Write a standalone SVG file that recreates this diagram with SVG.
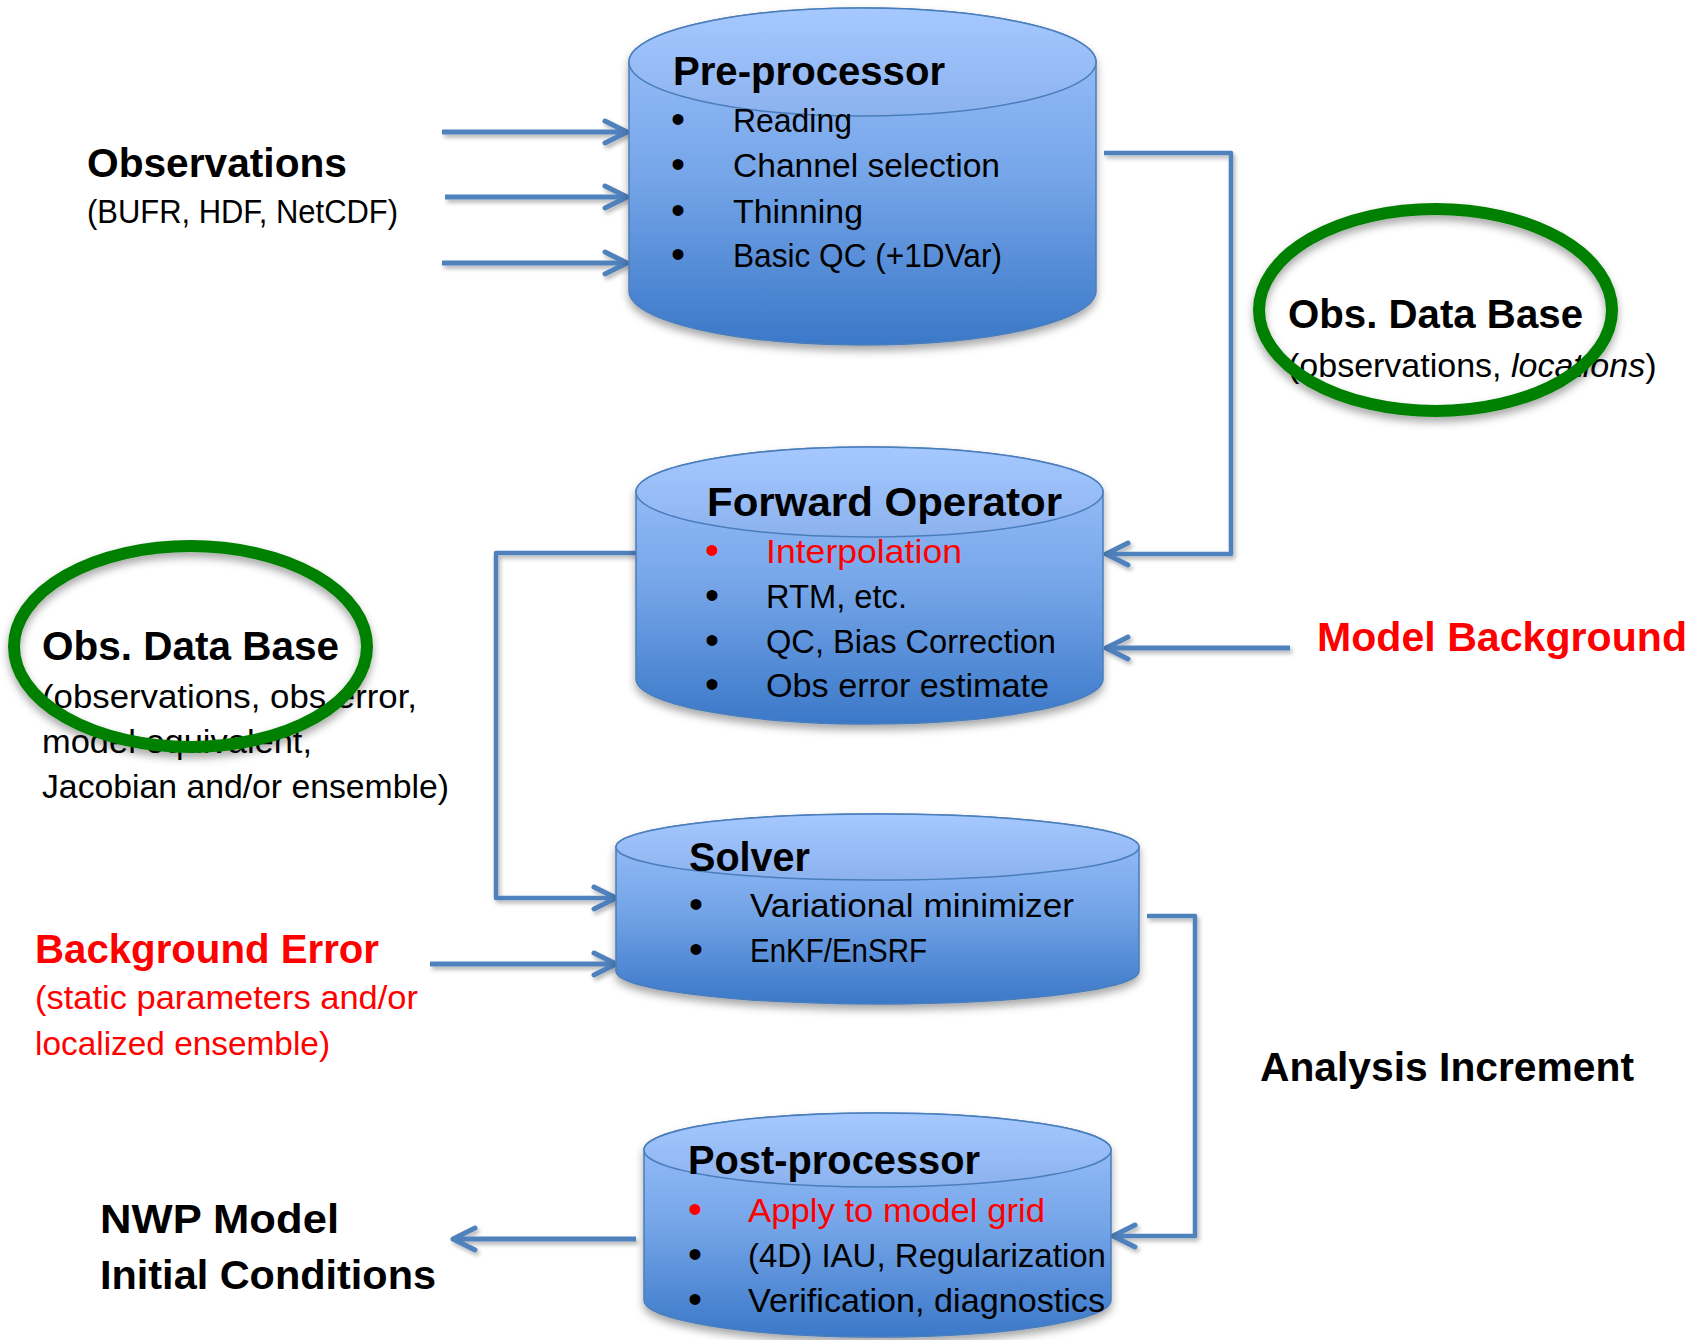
<svg xmlns="http://www.w3.org/2000/svg" width="1700" height="1340" viewBox="0 0 1700 1340">
  <defs>
    <style>
      .t { font-family: "Liberation Sans", Arial, sans-serif; }
      .title { font-size: 40px; font-weight: bold; fill: #000; }
      .body { font-size: 33px; fill: #000; }
      .dot { font-size: 40px; }
      .red { fill: #ff0000; }
      .cyl-body { fill: url(#bodyFill); stroke: #4a7ebb; stroke-width: 1.5; }
      .cyl-cap { fill: url(#capFill); stroke: #4a7ebb; stroke-width: 1.5; }
      .ring { fill: none; stroke: #008000; stroke-width: 12; }
      .conn { fill: none; stroke: #4f81bd; stroke-width: 4.5; stroke-linejoin: round; marker-end: url(#arrowOpen); }
      .conn-thick { stroke-width: 5; }
    </style>
    <linearGradient id="bodyFill" x1="0" y1="0" x2="0" y2="1">
      <stop offset="0" stop-color="#9fc3fd"/>
      <stop offset="0.5" stop-color="#75a5e8"/>
      <stop offset="1" stop-color="#3b78c8"/>
    </linearGradient>
    <linearGradient id="capFill" x1="0" y1="0" x2="0" y2="1">
      <stop offset="0" stop-color="#a5c8ff"/>
      <stop offset="1" stop-color="#8cb2ee"/>
    </linearGradient>
    <filter id="shadow" filterUnits="userSpaceOnUse" x="0" y="0" width="1700" height="1340">
      <feDropShadow dx="0" dy="5" stdDeviation="4" flood-color="#000" flood-opacity="0.35"/>
    </filter>
    <filter id="lineShadow" filterUnits="userSpaceOnUse" x="0" y="0" width="1700" height="1340">
      <feDropShadow dx="2" dy="3" stdDeviation="2" flood-color="#000" flood-opacity="0.3"/>
    </filter>
    <marker id="arrowOpen" markerUnits="userSpaceOnUse" markerWidth="30" markerHeight="30" viewBox="-26 -15 30 30" refX="0" refY="0" orient="auto">
      <path d="M-22,-11 L0,0 L-22,11" fill="none" stroke="#4f81bd" stroke-width="5" stroke-linecap="round" stroke-linejoin="round"/>
    </marker>
  </defs>

  <rect width="1700" height="1340" fill="#ffffff"/>

  <!-- connectors -->
  <g id="connectors" filter="url(#lineShadow)">
    <path class="conn conn-thick" d="M442,132 H627"/>
    <path class="conn conn-thick" d="M445,197 H627"/>
    <path class="conn conn-thick" d="M442,263 H627"/>
    <path class="conn" d="M1104,153 H1231 V554 H1106"/>
    <path class="conn conn-thick" d="M1290,648 H1106"/>
    <path class="conn" d="M636,553 H496 V898 H616"/>
    <path class="conn conn-thick" d="M430,964 H616"/>
    <path class="conn" d="M1147,916 H1195 V1236 H1113"/>
    <path class="conn conn-thick" d="M636,1239 H453"/>
  </g>

  <!-- Pre-processor -->
  <g id="preprocessor" class="t">
    <g filter="url(#shadow)">
      <path class="cyl-body" d="M629,62 V291 A233.5,54 0 0 0 1096,291 V62 A233.5,54 0 0 0 629,62 Z"/>
    </g>
    <ellipse class="cyl-cap" cx="862.5" cy="62" rx="233.5" ry="54"/>
    <text class="title" x="673" y="85" textLength="272" lengthAdjust="spacingAndGlyphs">Pre-processor</text>
    <g class="body">
      <text class="dot" x="678" y="133" text-anchor="middle">•</text>
      <text class="dot" x="678" y="178" text-anchor="middle">•</text>
      <text class="dot" x="678" y="224" text-anchor="middle">•</text>
      <text class="dot" x="678" y="268" text-anchor="middle">•</text>
      <text x="733" y="132" textLength="119" lengthAdjust="spacingAndGlyphs">Reading</text>
      <text x="733" y="177" textLength="267" lengthAdjust="spacingAndGlyphs">Channel selection</text>
      <text x="733" y="223" textLength="130" lengthAdjust="spacingAndGlyphs">Thinning</text>
      <text x="733" y="267" textLength="269" lengthAdjust="spacingAndGlyphs">Basic QC (+1DVar)</text>
    </g>
  </g>

  <!-- Forward Operator -->
  <g id="forward-operator" class="t">
    <g filter="url(#shadow)">
      <path class="cyl-body" d="M636,492 V679 A233.5,45 0 0 0 1103,679 V492 A233.5,45 0 0 0 636,492 Z"/>
    </g>
    <ellipse class="cyl-cap" cx="869.5" cy="492" rx="233.5" ry="45"/>
    <text class="title" x="707" y="516" textLength="355" lengthAdjust="spacingAndGlyphs">Forward Operator</text>
    <g class="body">
      <text class="dot red" x="712" y="564" text-anchor="middle">•</text>
      <text class="dot" x="712" y="609" text-anchor="middle">•</text>
      <text class="dot" x="712" y="654" text-anchor="middle">•</text>
      <text class="dot" x="712" y="698" text-anchor="middle">•</text>
      <text class="red" x="766" y="563" textLength="196" lengthAdjust="spacingAndGlyphs">Interpolation</text>
      <text x="766" y="608" textLength="141" lengthAdjust="spacingAndGlyphs">RTM, etc.</text>
      <text x="766" y="653" textLength="290" lengthAdjust="spacingAndGlyphs">QC, Bias Correction</text>
      <text x="766" y="697" textLength="283" lengthAdjust="spacingAndGlyphs">Obs error estimate</text>
    </g>
  </g>

  <!-- Solver -->
  <g id="solver" class="t">
    <g filter="url(#shadow)">
      <path class="cyl-body" d="M616,847 V971 A261.5,33 0 0 0 1139,971 V847 A261.5,33 0 0 0 616,847 Z"/>
    </g>
    <ellipse class="cyl-cap" cx="877.5" cy="847" rx="261.5" ry="33"/>
    <text class="title" x="689" y="871" textLength="121" lengthAdjust="spacingAndGlyphs">Solver</text>
    <g class="body">
      <text class="dot" x="696" y="918" text-anchor="middle">•</text>
      <text class="dot" x="696" y="963" text-anchor="middle">•</text>
      <text x="750" y="917" textLength="324" lengthAdjust="spacingAndGlyphs">Variational minimizer</text>
      <text x="750" y="962" textLength="177" lengthAdjust="spacingAndGlyphs">EnKF/EnSRF</text>
    </g>
  </g>

  <!-- Post-processor -->
  <g id="postprocessor" class="t">
    <g filter="url(#shadow)">
      <path class="cyl-body" d="M644,1150 V1300 A233.5,37 0 0 0 1111,1300 V1150 A233.5,37 0 0 0 644,1150 Z"/>
    </g>
    <ellipse class="cyl-cap" cx="877.5" cy="1150" rx="233.5" ry="37"/>
    <text class="title" x="688" y="1174" textLength="292" lengthAdjust="spacingAndGlyphs">Post-processor</text>
    <g class="body">
      <text class="dot red" x="695" y="1223" text-anchor="middle">•</text>
      <text class="dot" x="695" y="1268" text-anchor="middle">•</text>
      <text class="dot" x="695" y="1313" text-anchor="middle">•</text>
      <text class="red" x="748" y="1222" textLength="297" lengthAdjust="spacingAndGlyphs">Apply to model grid</text>
      <text x="748" y="1267" textLength="358" lengthAdjust="spacingAndGlyphs">(4D) IAU, Regularization</text>
      <text x="748" y="1312" textLength="357" lengthAdjust="spacingAndGlyphs">Verification, diagnostics</text>
    </g>
  </g>

  <!-- Observations input -->
  <g id="observations" class="t">
    <text class="title" x="87" y="177" textLength="260" lengthAdjust="spacingAndGlyphs">Observations</text>
    <text class="body" x="87" y="223" textLength="311" lengthAdjust="spacingAndGlyphs">(BUFR, HDF, NetCDF)</text>
  </g>

  <!-- Obs. Data Base after pre-processing -->
  <g id="obs-db-locations" class="t">
    <text class="title" x="1288" y="328" textLength="295" lengthAdjust="spacingAndGlyphs">Obs. Data Base</text>
    <text class="body" x="1288" y="377" style="font-size:34px">(observations, <tspan font-style="italic">locations</tspan>)</text>
    <ellipse class="ring" cx="1435.5" cy="310" rx="176.5" ry="101" filter="url(#shadow)"/>
  </g>

  <!-- Obs. Data Base after forward operator -->
  <g id="obs-db-equivalent" class="t">
    <text class="title" x="42" y="660" textLength="297" lengthAdjust="spacingAndGlyphs">Obs. Data Base</text>
    <text class="body" x="42" y="708" textLength="375" lengthAdjust="spacingAndGlyphs">(observations, obs error,</text>
    <text class="body" x="42" y="753" textLength="270" lengthAdjust="spacingAndGlyphs">model equivalent,</text>
    <text class="body" x="42" y="798" textLength="407" lengthAdjust="spacingAndGlyphs">Jacobian and/or ensemble)</text>
    <ellipse class="ring" cx="190.5" cy="646.5" rx="176.5" ry="100.5" filter="url(#shadow)"/>
  </g>

  <!-- Model Background -->
  <g id="model-background" class="t">
    <text class="title red" x="1317" y="651" textLength="370" lengthAdjust="spacingAndGlyphs">Model Background</text>
  </g>

  <!-- Background Error -->
  <g id="background-error" class="t">
    <text class="title red" x="35" y="963" textLength="344" lengthAdjust="spacingAndGlyphs">Background Error</text>
    <text class="body red" x="35" y="1009" textLength="383" lengthAdjust="spacingAndGlyphs">(static parameters and/or</text>
    <text class="body red" x="35" y="1055" textLength="295" lengthAdjust="spacingAndGlyphs">localized ensemble)</text>
  </g>

  <!-- Analysis Increment -->
  <g id="analysis-increment" class="t">
    <text class="title" x="1260" y="1081" textLength="374" lengthAdjust="spacingAndGlyphs">Analysis Increment</text>
  </g>

  <!-- NWP Model Initial Conditions -->
  <g id="nwp-initial-conditions" class="t">
    <text class="title" x="100" y="1233" textLength="239" lengthAdjust="spacingAndGlyphs">NWP Model</text>
    <text class="title" x="100" y="1289" textLength="336" lengthAdjust="spacingAndGlyphs">Initial Conditions</text>
  </g>
</svg>
